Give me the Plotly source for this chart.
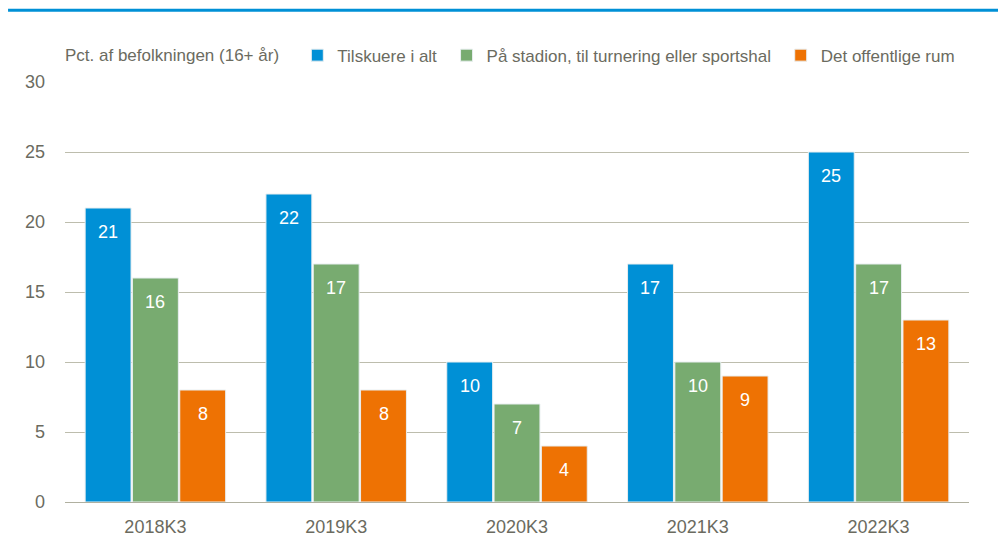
import plotly.graph_objects as go

quarters = ["2018K3", "2019K3", "2020K3", "2021K3", "2022K3"]
tilskuere_i_alt = [21, 22, 10, 17, 25]
paa_stadion = [16, 17, 7, 10, 17]
offentlige_rum = [8, 8, 4, 9, 13]

series = [
    ("Tilskuere i alt", tilskuere_i_alt, "#0090d6"),
    ("På stadion, til turnering eller sportshal", paa_stadion, "#78ab70"),
    ("Det offentlige rum", offentlige_rum, "#ee7203"),
]

font = "Liberation Sans, Arial, sans-serif"
grey = "#6b6b5f"

W, H = 998, 544
ml, mr, mt, mb = 65, 29, 82, 42
bargap = 0.215

fig = go.Figure()
for k, (name, vals, col) in enumerate(series):
    # a trailing nbsp widens the gap between legend entries a bit
    label = name + ("\u00a0" if k < len(series) - 1 else "")
    fig.add_trace(go.Bar(
        x=quarters, y=vals, name=label,
        marker=dict(color=col, line=dict(color="#e8eef0", width=1)),
    ))

# value labels placed a little below the top of each bar
plot_w = W - ml - mr
bar_px = plot_w / len(quarters) * (1 - bargap) / len(series)
for i, (name, vals, col) in enumerate(series):
    for q, v in zip(quarters, vals):
        fig.add_annotation(x=q, y=v, text=str(v), showarrow=False,
                           xshift=(i - 1) * bar_px, yshift=-24,
                           font=dict(color="white", size=18, family=font))

fig.update_layout(
    width=W, height=H,
    margin=dict(l=ml, r=mr, t=mt, b=mb, autoexpand=False),
    paper_bgcolor="white", plot_bgcolor="white",
    barmode="group", bargap=bargap, bargroupgap=0.03,
    font=dict(family=font, size=17, color=grey),
    legend=dict(orientation="h", x=0.257, y=1.02, yanchor="bottom",
                xanchor="left", font=dict(size=17, color=grey),
                traceorder="normal"),
    xaxis=dict(showline=True, linecolor="#b0b0a0", linewidth=1,
               tickfont=dict(size=18, color=grey), ticks="",
               ticklabelstandoff=8),
    yaxis=dict(range=[0, 30], dtick=5, showgrid=True, gridcolor="#bdbdad",
               gridwidth=1, zeroline=False, ticks="", ticklabelstandoff=19,
               tickfont=dict(size=18, color=grey)),
)

fig.add_annotation(text="Pct. af befolkningen (16+ år)", xref="paper", yref="paper",
                   x=-0.002, y=1.035, xanchor="left", yanchor="bottom", showarrow=False,
                   font=dict(size=17, color=grey, family=font))

fig.add_shape(type="line", xref="paper", yref="paper", x0=-0.063, x1=1.035,
              y0=1.171, y1=1.171, line=dict(color="#0090d6", width=3))

fig.write_html("out.html", config={"displayModeBar": False},
               post_script="document.body.style.margin='0';")
